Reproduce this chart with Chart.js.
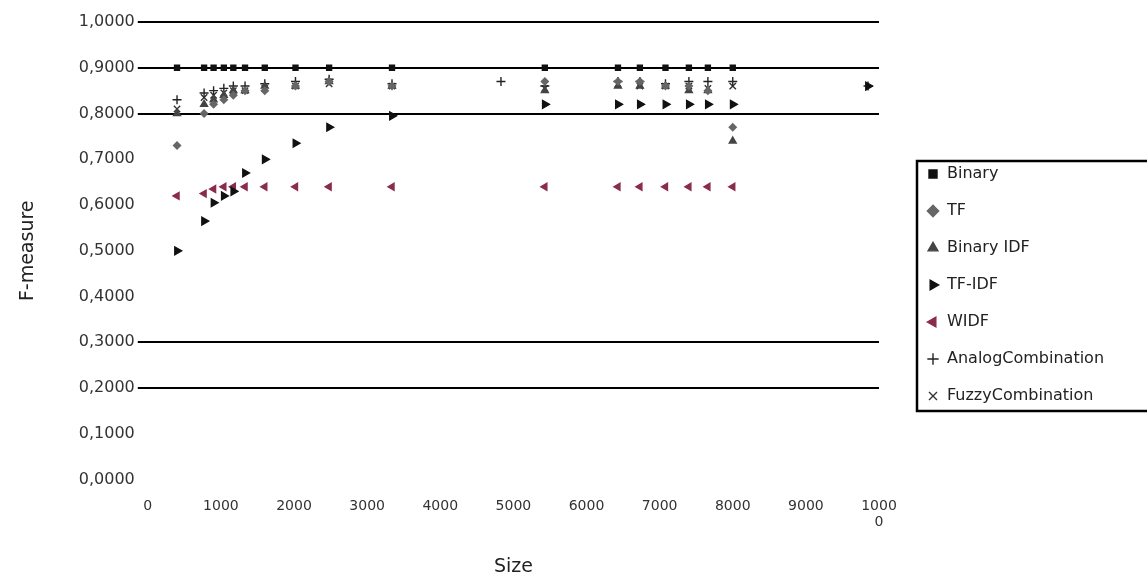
<!DOCTYPE html>
<html>
<head>
<meta charset="utf-8">
<title>F-measure vs Size</title>
<script src="https://cdn.jsdelivr.net/npm/chart.js@4/dist/chart.umd.min.js"></script>
<style>
    html, body { margin: 0; padding: 0; background: #fff; }
    #wrap { width: 1147px; height: 586px; }
</style>
</head>
<body>
<div id="wrap"><canvas id="chart" width="1147" height="586"></canvas></div>
<script>
// sizes (x) shared by all series, F-measure values
const sizes = [400, 770, 900, 1040, 1170, 1330, 1600, 2020, 2480, 3340, 4830, 5430, 6430, 6730, 7080, 7400, 7660, 8000, 9850];

const binary   = [0.90, 0.90, 0.90, 0.90, 0.90, 0.90, 0.90, 0.90, 0.90, 0.90, null, 0.90, 0.90, 0.90, 0.90, 0.90, 0.90, 0.90, null];
const tf       = [0.73, 0.80, 0.82, 0.83, 0.84, 0.85, 0.85, 0.86, 0.87, 0.86, null, 0.87, 0.87, 0.87, 0.86, 0.86, 0.85, 0.77, null];
const binaryIdf = [0.80, 0.82, 0.83, 0.84, 0.85, 0.85, 0.86, 0.86, 0.87, 0.86, null, 0.85, 0.86, 0.86, 0.86, 0.85, 0.85, 0.74, null];
const tfIdf    = [0.50, 0.565, 0.605, 0.62, 0.63, 0.67, 0.70, 0.735, 0.77, 0.795, null, 0.82, 0.82, 0.82, 0.82, 0.82, 0.82, 0.82, 0.86];
const widf     = [0.62, 0.625, 0.635, 0.64, 0.64, 0.64, 0.64, 0.64, 0.64, 0.64, null, 0.64, 0.64, 0.64, 0.64, 0.64, 0.64, 0.64, null];
const analog   = [0.83, 0.845, 0.85, 0.855, 0.86, 0.86, 0.865, 0.87, 0.875, 0.865, 0.87, 0.86, 0.87, 0.87, 0.865, 0.87, 0.87, 0.87, 0.86];
const fuzzy    = [0.81, 0.835, 0.84, 0.845, 0.85, 0.85, 0.855, 0.86, 0.865, 0.86, null, 0.855, 0.865, 0.86, 0.86, 0.86, 0.855, 0.86, null];

const seriesNames = ['Binary', 'TF', 'Binary IDF', 'TF-IDF', 'WIDF', 'AnalogCombination', 'FuzzyCombination'];
const seriesValues = [binary, tf, binaryIdf, tfIdf, widf, analog, fuzzy];

// only these y gridlines survive in the original
const gridAt = [10, 9, 8, 3, 2];

const markers = [
    { style: 'rect', rot: 0, color: '#111', r: 3.5 },
    { style: 'rectRot', rot: 0, color: '#666', r: 3.5 },
    { style: 'triangle', rot: 0, color: '#444', r: 4 },
    { style: 'triangle', rot: 90, color: '#111', r: 4.5 },
    { style: 'triangle', rot: 270, color: '#8a2c4c', r: 4 },
    { style: 'cross', rot: 0, color: '#222', r: 4.5 },
    { style: 'crossRot', rot: 0, color: '#333', r: 4.5 }
];

const datasets = seriesNames.map((name, i) => ({
    label: name,
    data: sizes.map((s, j) => ({ x: s, y: seriesValues[i][j] })).filter(p => p.y !== null),
    showLine: false,
    pointStyle: markers[i].style,
    rotation: markers[i].rot,
    pointRadius: markers[i].r,
    borderWidth: 1.4,
    borderColor: markers[i].color,
    backgroundColor: markers[i].color
}));

const FONT = 'DejaVu Sans, Liberation Sans, Arial';

// widen the legend box, move it down a bit and frame it, like the Excel legend
const legendFrame = {
    id: 'legendFrame',
    beforeInit(chart) {
        const lg = chart.legend;
        if (!lg) return;
        const fit = lg.fit;
        lg.fit = function () { fit.call(this); this.width = 268; };
    },
    afterLayout(chart) {
        const lg = chart.legend;
        lg.left = 906;
        lg.right = 1147;
        lg.top = 100;
        lg.bottom = 470;
    },
    afterDraw(chart) {
        const lg = chart.legend;
        const boxes = lg.legendHitBoxes;
        if (!boxes || !boxes.length) return;
        const ctx = chart.ctx;
        const last = boxes[boxes.length - 1];
        const top = boxes[0].top - 5;
        const bottom = last.top + last.height + 7;
        ctx.save();
        ctx.strokeStyle = '#000';
        ctx.lineWidth = 2.5;
        ctx.strokeRect(lg.left + 11, top, 1147 - lg.left - 11 + 2, bottom - top);
        ctx.restore();
    }
};

new Chart(document.getElementById('chart'), {
    type: 'scatter',
    data: { datasets: datasets },
    options: {
        responsive: false,
        animation: false,
        layout: { padding: { left: 17, top: 22, right: 0, bottom: 8 } },
        scales: {
            x: {
                type: 'linear',
                min: 0,
                max: 10000,
                border: { display: false },
                grid: { display: false },
                ticks: {
                    stepSize: 1000,
                    color: '#333',
                    font: { family: FONT, size: 14 },
                    padding: 10,
                    maxRotation: 0,
                    callback: v => v === 10000 ? ['1000', '0'] : String(v)
                },
                title: {
                    display: true,
                    text: 'Size',
                    color: '#222',
                    font: { family: FONT, size: 19 },
                    padding: { top: 14, bottom: 0 }
                }
            },
            y: {
                min: 0,
                max: 1,
                border: { display: false },
                grid: {
                    lineWidth: 2,
                    tickLength: 10,
                    color: c => gridAt.includes(Math.round(c.tick.value * 10)) ? '#000' : 'rgba(0,0,0,0)'
                },
                ticks: {
                    stepSize: 0.1,
                    color: '#333',
                    padding: 3,
                    font: { family: FONT, size: 16 },
                    callback: v => v.toFixed(4).replace('.', ',')
                },
                title: {
                    display: true,
                    text: 'F-measure',
                    color: '#222',
                    font: { family: FONT, size: 19 },
                    padding: { top: 0, bottom: 36 }
                }
            }
        },
        plugins: {
            legend: {
                position: 'right',
                labels: {
                    usePointStyle: true,
                    boxWidth: 12,
                    boxHeight: 8,
                    padding: 21,
                    color: '#222',
                    font: { family: FONT, size: 16 }
                }
            },
            tooltip: { enabled: false }
        }
    },
    plugins: [legendFrame]
});
</script>
</body>
</html>
